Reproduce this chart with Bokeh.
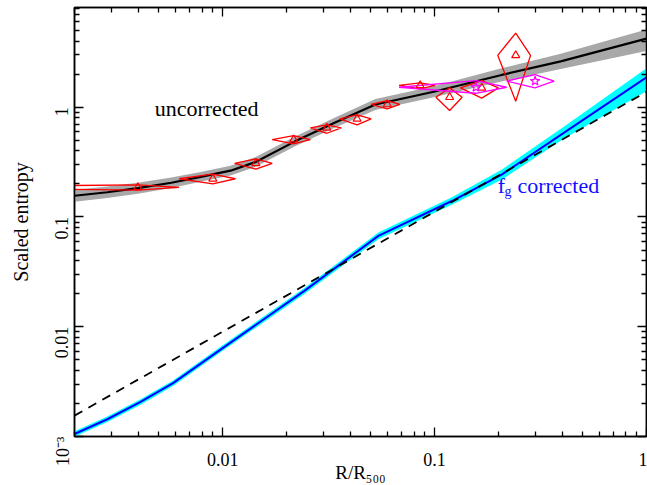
import math
from bokeh.plotting import figure
from bokeh.models import (LogAxis, FixedTicker, Label, CustomJSTickFormatter, Range1d, Title)
from bokeh.embed import file_html
from bokeh.resources import INLINE

# ---------------- data ----------------
# uncorrected entropy profile (black line) and its scatter band (grey)
unc_x = [0.002, 0.002856, 0.003981, 0.005728, 0.007985, 0.01089, 0.01424, 0.02185,
         0.03354, 0.05259, 0.0979, 0.2072, 0.3937, 1.0]
unc_y = [0.1562, 0.1681, 0.1829, 0.2052, 0.2329, 0.2641, 0.3158, 0.4861,
         0.7173, 1.0585, 1.377, 1.968, 2.614, 4.215]
unc_lo = [0.1376, 0.1488, 0.1630, 0.1837, 0.2100, 0.2381, 0.2847, 0.4382,
          0.6467, 0.9434, 1.227, 1.714, 2.225, 3.25]
unc_hi = [0.1773, 0.1899, 0.2052, 0.2292, 0.2583, 0.2929, 0.3503, 0.5392,
          0.7956, 1.1876, 1.545, 2.259, 3.071, 5.1]

# f_g corrected profile (blue line) and its band (cyan)
cor_x = [0.002, 0.002856, 0.004079, 0.005834, 0.01, 0.0243, 0.0543, 0.1213, 0.2072, 0.4087, 1.0]
cor_y = [0.001054, 0.001436, 0.002053, 0.003061, 0.006391, 0.0212, 0.0673, 0.1405, 0.2428, 0.5875, 1.867]
cor_lo = [0.000995, 0.001356, 0.001938, 0.00289, 0.006033, 0.01992, 0.06281, 0.1296, 0.2189, 0.5176, 1.40]
cor_hi = [0.001117, 0.001521, 0.002175, 0.003243, 0.00677, 0.02256, 0.07211, 0.1523, 0.2693, 0.6668, 2.26]

# baseline (dashed)
base_x = [0.002, 0.04, 1.0]
base_y = [0.00155, 0.041, 1.38]

# red data points (triangles with error diamonds)
red_x = [0.00398, 0.00899, 0.01435, 0.02163, 0.03103, 0.0431, 0.0598, 0.0855, 0.1178, 0.167, 0.2415]
red_xlo = [0.0002, 0.00624, 0.0114, 0.01714, 0.02594, 0.0357, 0.0502, 0.068, 0.1015, 0.1324, 0.1986]
red_xhi = [0.00623, 0.01149, 0.01714, 0.02594, 0.0363, 0.0502, 0.0686, 0.1007, 0.1349, 0.2, 0.2837]
red_y = [0.186, 0.223, 0.308, 0.507, 0.648, 0.783, 1.06, 1.58, 1.234, 1.50, 2.97]
red_ylo = [0.176, 0.200, 0.273, 0.463, 0.579, 0.691, 0.967, 1.47, 0.933, 1.21, 1.135]
red_yhi = [0.196, 0.246, 0.338, 0.552, 0.690, 0.853, 1.15, 1.67, 1.50, 1.75, 4.74]

# magenta data points (stars with error diamonds)
mag_x = [0.1567, 0.298]
mag_xlo = [0.068, 0.2188]
mag_xhi = [0.2188, 0.3664]
mag_y = [1.52, 1.73]
mag_ylo = [1.34, 1.50]
mag_yhi = [1.75, 1.98]

# ticks
x_ticks = [0.01, 0.1, 1.0]
x_tick_labels = ["0.01", "0.1", "1"]
y_ticks = [0.001, 0.01, 0.1, 1.0]
y_tick_labels = ["10\u207b\u00b3", "0.01", "0.1", "1"]
x_minor = [k * 10.0 ** e for e in (-3, -2, -1) for k in range(2, 10)]
y_minor = [k * 10.0 ** e for e in (-3, -2, -1, 0) for k in range(2, 10)]

FONT = "Liberation Serif"

p = figure(width=647, height=485, x_axis_type="log", y_axis_type="log",
           x_range=Range1d(0.002, 1.0), y_range=Range1d(0.001, 8.1),
           output_backend="svg", toolbar_location=None,
           min_border_left=68, min_border_right=1, min_border_top=7,
           min_border_bottom=49)
p.grid.visible = False
p.outline_line_color = "black"
p.outline_line_width = 1.5
p.background_fill_color = "white"
p.border_fill_color = "white"

fmt_code = """
for (let i = 0; i < tv.length; i++) {
  if (Math.abs(tick - tv[i]) <= tv[i] * 1e-6) { return tl[i]; }
}
return "";
"""
xfmt = CustomJSTickFormatter(args=dict(tv=x_ticks, tl=x_tick_labels), code=fmt_code)
yfmt = CustomJSTickFormatter(args=dict(tv=y_ticks, tl=y_tick_labels), code=fmt_code)


def style_axis(ax):
    ax.major_tick_in = 9
    ax.major_tick_out = 0
    ax.minor_tick_in = 5
    ax.minor_tick_out = 0
    ax.axis_line_width = 1.5
    ax.major_tick_line_width = 1.3
    ax.minor_tick_line_width = 1.3
    ax.axis_line_color = "black"
    ax.major_tick_line_color = "black"
    ax.minor_tick_line_color = "black"
    ax.major_label_text_font = FONT
    ax.major_label_text_font_size = "18px"
    ax.major_label_text_color = "black"


xax = p.xaxis[0]
xax.ticker = FixedTicker(ticks=x_ticks, minor_ticks=x_minor)
xax.formatter = xfmt
style_axis(xax)
xax.major_label_standoff = 16
xax.axis_label = "R/R\u2085\u2080\u2080"
xax.axis_label_text_font = FONT
xax.axis_label_text_font_size = "19px"
xax.axis_label_text_font_style = "normal"
xax.axis_label_text_color = "black"
xax.axis_label_standoff = -7

yax = p.yaxis[0]
yax.ticker = FixedTicker(ticks=y_ticks, minor_ticks=y_minor)
yax.formatter = yfmt
style_axis(yax)
yax.major_label_orientation = math.pi / 2
yax.major_label_standoff = 12

top = LogAxis(ticker=FixedTicker(ticks=x_ticks, minor_ticks=x_minor),
              formatter=CustomJSTickFormatter(code="return '';"))
style_axis(top)
top.major_label_standoff = 0
top.major_label_text_font_size = "0px"
p.add_layout(top, "above")

right = LogAxis(ticker=FixedTicker(ticks=y_ticks, minor_ticks=y_minor),
                formatter=CustomJSTickFormatter(code="return '';"))
style_axis(right)
right.major_label_standoff = 0
right.major_label_text_font_size = "0px"
p.add_layout(right, "right")

ytitle = Title(text="Scaled entropy", text_font=FONT, text_font_size="20px",
               text_font_style="normal", text_color="black", align="center",
               offset=-36, standoff=15)
p.add_layout(ytitle, "left")

# bands and lines
p.varea(x=unc_x, y1=unc_lo, y2=unc_hi, fill_color="#a8a8a8", fill_alpha=1.0)
p.line(unc_x, unc_y, line_color="black", line_width=2.2)
p.varea(x=cor_x, y1=cor_lo, y2=cor_hi, fill_color="#00ffff", fill_alpha=1.0)
p.line(cor_x, cor_y, line_color="#0000ff", line_width=2.0)
p.line(base_x, base_y, line_color="black", line_width=1.8, line_dash="9 7")


def diamonds(x, xlo, xhi, y, ylo, yhi):
    xs = [[a, xc, b, xc] for a, xc, b in zip(xlo, x, xhi)]
    ys = [[yc, t, yc, bt] for yc, bt, t in zip(y, ylo, yhi)]
    return xs, ys


rxs, rys = diamonds(red_x, red_xlo, red_xhi, red_y, red_ylo, red_yhi)
mxs, mys = diamonds(mag_x, mag_xlo, mag_xhi, mag_y, mag_ylo, mag_yhi)
p.patches(rxs, rys, fill_alpha=0, line_color="#ff0000", line_width=1.3)
p.patches(mxs, mys, fill_alpha=0, line_color="#ff00ff", line_width=1.3)
p.scatter(red_x, red_y, marker="triangle", size=8, fill_alpha=0,
          line_color="#ff0000", line_width=1.2)
p.scatter(mag_x, mag_y, marker="star", size=10, fill_alpha=0,
          line_color="#ff00ff", line_width=1.2)


def lab(x, y, text, size, color="black"):
    p.add_layout(Label(x=x, y=y, text=text, text_font=FONT, text_font_size=size,
                       text_color=color, text_baseline="alphabetic", text_align="left"))


lab(0.00478, 0.973, "uncorrected", "22px")
lab(0.1986, 0.195, "f", "22px", "#1010ff")
lab(0.2137, 0.170, "g", "14px", "#1010ff")
lab(0.246, 0.195, "corrected", "22px", "#1010ff")

open("out.html", "w").write(file_html(p, INLINE))
